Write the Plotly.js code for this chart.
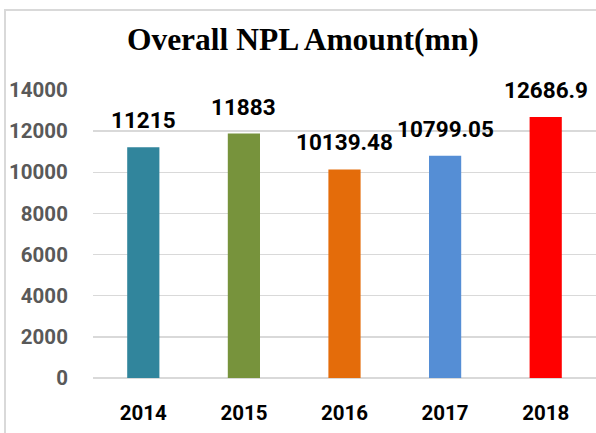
<!DOCTYPE html>
<html>
<head>
<meta charset="utf-8">
<script src="https://cdn.plot.ly/plotly-3.0.1.min.js"></script>
<style>html,body{margin:0;padding:0;background:#fff;}#chart{width:596px;height:433px;}</style>
</head>
<body>
<div id="chart"></div>
<script>
var years = ['2014', '2015', '2016', '2017', '2018'];
var nplAmount = [11215, 11883, 10139.48, 10799.05, 12686.9];
var barColors = ['#31859C', '#77933C', '#E46C0A', '#558ED5', '#FF0000'];
var yTicks = [0, 2000, 4000, 6000, 8000, 10000, 12000, 14000];
var chartTitle = 'Overall NPL Amount(mn)';

var trace = {
  type: 'bar',
  x: years,
  y: nplAmount,
  marker: {color: barColors},
  width: 0.32,
  hoverinfo: 'x+y'
};

// annotations on a category axis: use the category index
var annotations = years.map(function (yr, i) {
  return {
    x: i, y: nplAmount[i], xref: 'x', yref: 'y',
    text: String(nplAmount[i]),
    showarrow: false, yanchor: 'bottom', xanchor: 'center',
    yshift: 12,
    font: {family: 'Roboto', size: 22.5, color: '#000000', weight: 'bold'}
  };
});

var plotL = 93, plotR = 596, plotT = 90, plotB = 378;
var pw = plotR - plotL, ph = plotB - plotT;

var layout = {
  width: 596, height: 433,
  margin: {l: plotL, r: 596 - plotR, t: plotT, b: 433 - plotB, pad: 0},
  paper_bgcolor: '#ffffff', plot_bgcolor: '#ffffff',
  showlegend: false,
  title: {
    text: chartTitle,
    xref: 'container', yref: 'container',
    x: 0.508, y: 1 - 39 / 433, xanchor: 'center', yanchor: 'middle',
    font: {family: 'Liberation Serif', size: 31.5, color: '#000000', weight: 'bold'}
  },
  xaxis: {
    type: 'category',
    range: [-0.5, years.length - 0.5],
    showgrid: false, zeroline: false, showline: false,
    ticks: 'outside', ticklen: 16, tickcolor: 'rgba(0,0,0,0)',
    tickfont: {family: 'Roboto', size: 20.5, color: '#000000', weight: 'bold'},
    fixedrange: true
  },
  yaxis: {
    range: [0, 14000],
    tickvals: yTicks,
    ticktext: yTicks.map(String),
    showgrid: true, gridcolor: '#d9d9d9', gridwidth: 1.3,
    zeroline: true, zerolinecolor: '#d9d9d9', zerolinewidth: 1.3,
    showline: false,
    ticks: 'outside', ticklen: 20, tickcolor: 'rgba(0,0,0,0)',
    tickfont: {family: 'Roboto', size: 20.5, color: '#595959', weight: 'bold'},
    fixedrange: true
  },
  shapes: [{
    type: 'rect', xref: 'paper', yref: 'paper',
    x0: (5 - plotL) / pw, x1: (600 - plotL) / pw,
    y0: (plotB - 440) / ph, y1: (plotB - 10) / ph,
    line: {color: '#d9d9d9', width: 2}, fillcolor: 'rgba(0,0,0,0)', layer: 'below'
  }],
  annotations: annotations
};

Plotly.newPlot('chart', [trace], layout, {displayModeBar: false, staticPlot: true});
</script>
</body>
</html>
